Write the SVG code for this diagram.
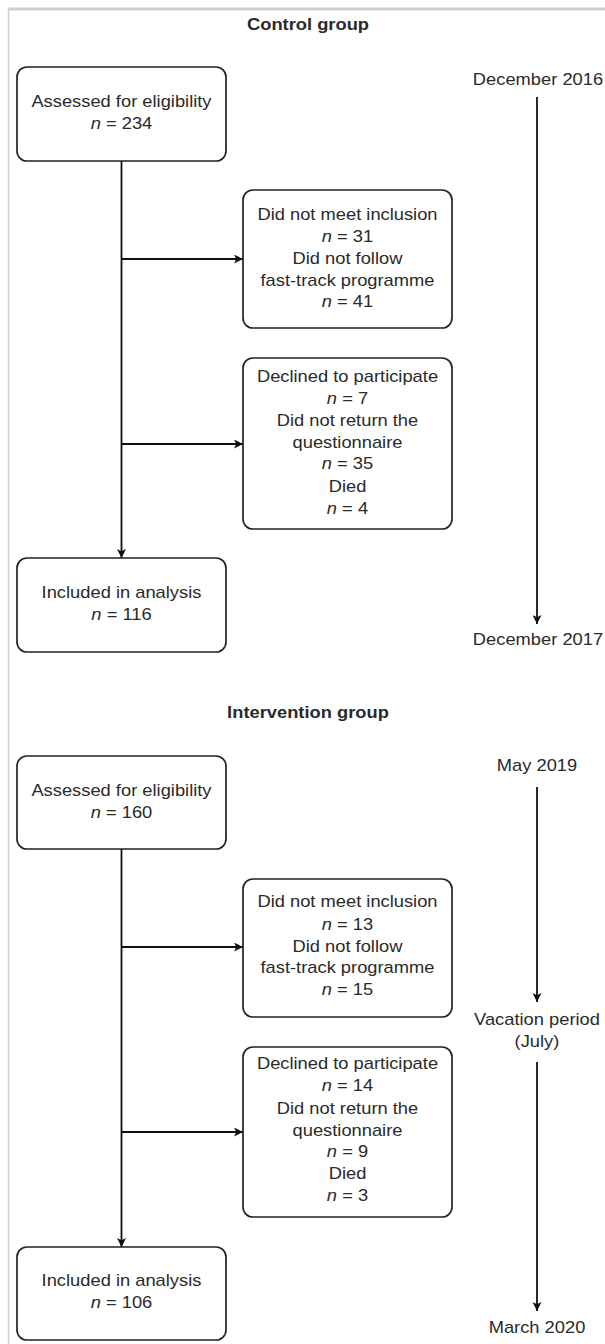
<svg xmlns="http://www.w3.org/2000/svg" width="605" height="1344" viewBox="0 0 605 1344">
<defs>
<marker id="ah" viewBox="0 0 10 10" refX="10" refY="5" markerWidth="10" markerHeight="9" markerUnits="userSpaceOnUse" orient="auto">
<path d="M0,0 L10,5 L0,10 L2.5,5 Z" fill="#111"/>
</marker>
</defs>
<style>
.box{fill:#fff;stroke:#222;stroke-width:1.7}
.t,.h{font-family:"Liberation Sans",Arial,sans-serif;font-size:16px;fill:#2a2a2a;text-anchor:middle;transform:scaleX(1.145);transform-box:fill-box;transform-origin:center}
.h{font-weight:bold}
.c{fill:none;stroke:#111;stroke-width:1.8}
.frame{fill:none;stroke:#d0d0d0}
</style>
<rect width="605" height="1344" fill="#fff"/>
<line class="frame" x1="8.5" y1="9" x2="605" y2="9" stroke-width="3"/>
<line class="frame" x1="8.5" y1="8" x2="8.5" y2="1344" stroke-width="1.5"/>

<text class="h" x="308" y="30">Control group</text>
<text class="h" x="308" y="718">Intervention group</text>

<g id="connectors">
<line class="c" x1="121.5" y1="161" x2="121.5" y2="558" marker-end="url(#ah)"/>
<line class="c" x1="121.5" y1="259" x2="243" y2="259" marker-end="url(#ah)"/>
<line class="c" x1="121.5" y1="444" x2="243" y2="444" marker-end="url(#ah)"/>
<line class="c" x1="537" y1="97" x2="537" y2="624" marker-end="url(#ah)"/>
<line class="c" x1="121.5" y1="849" x2="121.5" y2="1247" marker-end="url(#ah)"/>
<line class="c" x1="121.5" y1="947" x2="243" y2="947" marker-end="url(#ah)"/>
<line class="c" x1="121.5" y1="1132" x2="243" y2="1132" marker-end="url(#ah)"/>
<line class="c" x1="537" y1="787" x2="537" y2="1002" marker-end="url(#ah)"/>
<line class="c" x1="537" y1="1062" x2="537" y2="1311" marker-end="url(#ah)"/>
</g>

<g id="c_assessed">
<rect class="box" x="17" y="67" width="209" height="94" rx="10"/>
<text class="t" x="121.5" y="107">Assessed for eligibility</text>
<text class="t" x="121.5" y="129"><tspan font-style="italic">n</tspan> = 234</text>
</g>
<g id="c_excluded1">
<rect class="box" x="243" y="190" width="209" height="138" rx="10"/>
<text class="t" x="347.5" y="220">Did not meet inclusion</text>
<text class="t" x="347.5" y="242"><tspan font-style="italic">n</tspan> = 31</text>
<text class="t" x="347.5" y="264">Did not follow</text>
<text class="t" x="347.5" y="286">fast-track programme</text>
<text class="t" x="347.5" y="307"><tspan font-style="italic">n</tspan> = 41</text>
</g>
<g id="c_excluded2">
<rect class="box" x="243" y="358" width="209" height="171" rx="10"/>
<text class="t" x="347.5" y="382">Declined to participate</text>
<text class="t" x="347.5" y="404"><tspan font-style="italic">n</tspan> = 7</text>
<text class="t" x="347.5" y="426">Did not return the</text>
<text class="t" x="347.5" y="448">questionnaire</text>
<text class="t" x="347.5" y="469"><tspan font-style="italic">n</tspan> = 35</text>
<text class="t" x="347.5" y="492">Died</text>
<text class="t" x="347.5" y="514"><tspan font-style="italic">n</tspan> = 4</text>
</g>
<g id="c_included">
<rect class="box" x="17" y="558" width="209" height="94" rx="10"/>
<text class="t" x="121.5" y="598">Included in analysis</text>
<text class="t" x="121.5" y="620"><tspan font-style="italic">n</tspan> = 116</text>
</g>
<g id="c_timeline">
<text class="t" x="538" y="85">December 2016</text>
<text class="t" x="538" y="645">December 2017</text>
</g>

<g id="i_assessed">
<rect class="box" x="17" y="756" width="209" height="93" rx="10"/>
<text class="t" x="121.5" y="796">Assessed for eligibility</text>
<text class="t" x="121.5" y="818"><tspan font-style="italic">n</tspan> = 160</text>
</g>
<g id="i_excluded1">
<rect class="box" x="243" y="879" width="209" height="138" rx="10"/>
<text class="t" x="347.5" y="907">Did not meet inclusion</text>
<text class="t" x="347.5" y="930"><tspan font-style="italic">n</tspan> = 13</text>
<text class="t" x="347.5" y="952">Did not follow</text>
<text class="t" x="347.5" y="973">fast-track programme</text>
<text class="t" x="347.5" y="995"><tspan font-style="italic">n</tspan> = 15</text>
</g>
<g id="i_excluded2">
<rect class="box" x="243" y="1047" width="209" height="170" rx="10"/>
<text class="t" x="347.5" y="1069">Declined to participate</text>
<text class="t" x="347.5" y="1091"><tspan font-style="italic">n</tspan> = 14</text>
<text class="t" x="347.5" y="1114">Did not return the</text>
<text class="t" x="347.5" y="1136">questionnaire</text>
<text class="t" x="347.5" y="1157"><tspan font-style="italic">n</tspan> = 9</text>
<text class="t" x="347.5" y="1179">Died</text>
<text class="t" x="347.5" y="1201"><tspan font-style="italic">n</tspan> = 3</text>
</g>
<g id="i_included">
<rect class="box" x="17" y="1247" width="209" height="93" rx="10"/>
<text class="t" x="121.5" y="1286">Included in analysis</text>
<text class="t" x="121.5" y="1308"><tspan font-style="italic">n</tspan> = 106</text>
</g>
<g id="i_timeline">
<text class="t" x="537" y="771">May 2019</text>
<text class="t" x="537" y="1025">Vacation period</text>
<text class="t" x="537" y="1047">(July)</text>
<text class="t" x="537" y="1333">March 2020</text>
</g>
</svg>
